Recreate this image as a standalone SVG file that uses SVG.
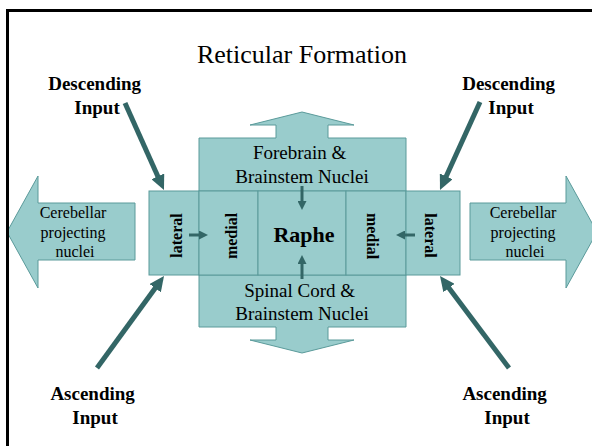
<svg xmlns="http://www.w3.org/2000/svg" width="592" height="446" viewBox="0 0 592 446">
  <style>
    .box { fill: #99cccc; stroke: #5a9a9a; stroke-width: 1; }
    .serif { font-family: "Liberation Serif", "Times New Roman", serif; fill: #000; }
    .title { font-size: 26px; }
    .label { font-size: 19px; }
    .small { font-size: 16px; }
    .bold { font-weight: bold; }
    .big { stroke: #336666; stroke-width: 5; fill: none; }
    .thin { stroke: #336666; stroke-width: 3; fill: none; }
  </style>
  <defs>
    <marker id="headBig" markerUnits="userSpaceOnUse" viewBox="0 0 15 14" markerWidth="15" markerHeight="14" refX="7" refY="7" orient="auto">
      <path d="M0,0 L15,7 L0,14 z" fill="#336666"/>
    </marker>
    <marker id="headSmall" markerUnits="userSpaceOnUse" viewBox="0 0 9 9" markerWidth="9" markerHeight="9" refX="4" refY="4.5" orient="auto">
      <path d="M0,0 L9,4.5 L0,9 z" fill="#336666"/>
    </marker>
  </defs>

  <rect width="592" height="446" fill="#ffffff"/>

  <text class="serif title" x="302" y="63" text-anchor="middle">Reticular Formation</text>

  <!-- outgoing projection to the left -->
  <g id="cerebellar-left">
    <polygon class="box" points="7,232 38,176 38,203 135,203 135,260 38,260 38,288"/>
    <text class="serif small" text-anchor="middle">
      <tspan x="75" y="218">Cerebellar</tspan>
      <tspan x="75" y="238">projecting</tspan>
      <tspan x="75" y="257">nuclei</tspan>
    </text>
  </g>

  <!-- outgoing projection to the right -->
  <g id="cerebellar-right">
    <polygon class="box" points="597,232 566,176 566,203 470,203 470,260 566,260 566,288"/>
    <text class="serif small" text-anchor="middle">
      <tspan x="525" y="218">Cerebellar</tspan>
      <tspan x="525" y="238">projecting</tspan>
      <tspan x="525" y="257">nuclei</tspan>
    </text>
  </g>

  <!-- upward block arrow with forebrain box -->
  <g id="forebrain">
    <polygon class="box" points="199,138 276,138 276,125 250,125 302,112 354,125 328,125 328,138 406,138 406,191 199,191"/>
    <text class="serif label" text-anchor="middle">
      <tspan x="302" y="159">Forebrain &amp;</tspan>
      <tspan x="302" y="183">Brainstem Nuclei</tspan>
    </text>
  </g>

  <!-- downward block arrow with spinal box -->
  <g id="spinal">
    <polygon class="box" points="199,275 406,275 406,327 328,327 328,340 354,340 302,353 250,340 276,340 276,327 199,327"/>
    <text class="serif label" text-anchor="middle">
      <tspan x="302" y="297">Spinal Cord &amp;</tspan>
      <tspan x="302" y="320">Brainstem Nuclei</tspan>
    </text>
  </g>

  <g id="lateral-left">
    <rect class="box" x="149" y="191" width="50" height="84"/>
    <text class="serif small bold" text-anchor="middle" transform="translate(182,235.5) rotate(-90)">lateral</text>
  </g>
  <g id="medial-left">
    <rect class="box" x="199" y="191" width="59" height="84"/>
    <text class="serif small bold" text-anchor="middle" transform="translate(237,236) rotate(-90)">medial</text>
  </g>
  <g id="raphe">
    <rect class="box" x="258" y="191" width="88" height="84"/>
    <text class="serif bold" font-size="22" x="304" y="242" text-anchor="middle">Raphe</text>
  </g>
  <g id="medial-right">
    <rect class="box" x="346" y="191" width="60" height="84"/>
    <text class="serif small bold" text-anchor="middle" transform="translate(367,236) rotate(90)">medial</text>
  </g>
  <g id="lateral-right">
    <rect class="box" x="406" y="191" width="54" height="84"/>
    <text class="serif small bold" text-anchor="middle" transform="translate(425,235.5) rotate(90)">lateral</text>
  </g>

  <g id="desc-left">
    <text class="serif label bold" text-anchor="middle">
      <tspan x="97" y="90">Descending</tspan>
      <tspan x="97" y="114">Input</tspan>
    </text>
  </g>
  <g id="desc-right">
    <text class="serif label bold" text-anchor="middle">
      <tspan x="511" y="90">Descending</tspan>
      <tspan x="511" y="114">Input</tspan>
    </text>
  </g>
  <g id="asc-left">
    <text class="serif label bold" text-anchor="middle">
      <tspan x="95" y="400">Ascending</tspan>
      <tspan x="95" y="424">Input</tspan>
    </text>
  </g>
  <g id="asc-right">
    <text class="serif label bold" text-anchor="middle">
      <tspan x="507" y="400">Ascending</tspan>
      <tspan x="507" y="424">Input</tspan>
    </text>
  </g>

  <g id="connectors">
    <line class="big" x1="125" y1="103" x2="160.7" y2="182.7" marker-end="url(#headBig)"/>
    <line class="big" x1="480" y1="102" x2="443.3" y2="182.7" marker-end="url(#headBig)"/>
    <line class="big" x1="97" y1="368" x2="159.3" y2="282.5" marker-end="url(#headBig)"/>
    <line class="big" x1="509" y1="368" x2="444.8" y2="282.4" marker-end="url(#headBig)"/>
    <line class="thin" x1="189" y1="235" x2="203" y2="235" marker-end="url(#headSmall)"/>
    <line class="thin" x1="415" y1="235" x2="401" y2="235" marker-end="url(#headSmall)"/>
    <line class="thin" x1="302" y1="186" x2="302" y2="205" marker-end="url(#headSmall)"/>
    <line class="thin" x1="302" y1="279" x2="302" y2="260" marker-end="url(#headSmall)"/>
  </g>

  <!-- slide frame -->
  <path d="M7.5,446 V10.5 H592" fill="none" stroke="#000" stroke-width="3"/>
</svg>
